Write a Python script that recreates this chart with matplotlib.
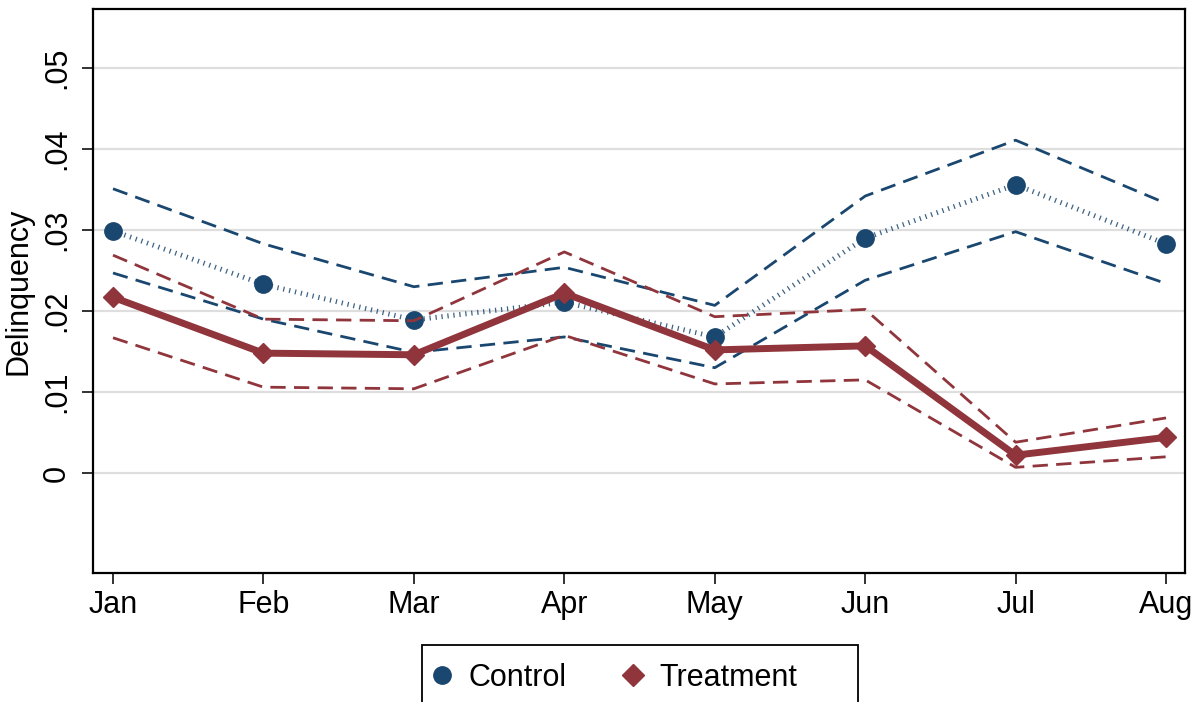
import matplotlib
matplotlib.use("Agg")
import matplotlib.pyplot as plt
from matplotlib.lines import Line2D
from matplotlib.patches import Rectangle

plt.rcParams['font.family'] = ['Liberation Sans', 'DejaVu Sans']

months = ["Jan", "Feb", "Mar", "Apr", "May", "Jun", "Jul", "Aug"]

control = [0.0299, 0.0233, 0.0189, 0.0211, 0.0168, 0.0290, 0.0356, 0.0283]
control_hi = [0.0351, 0.0283, 0.0230, 0.0254, 0.0207, 0.0342, 0.0411, 0.0333]
control_lo = [0.0247, 0.0190, 0.0149, 0.0168, 0.0130, 0.0238, 0.0298, 0.0234]

treatment = [0.0217, 0.0148, 0.0146, 0.0222, 0.0152, 0.0157, 0.0022, 0.0044]
treatment_hi = [0.0269, 0.0190, 0.0188, 0.0273, 0.0193, 0.0202, 0.0038, 0.0068]
treatment_lo = [0.0167, 0.0106, 0.0104, 0.0170, 0.0110, 0.0115, 0.0007, 0.0020]

yticks = [0, 0.01, 0.02, 0.03, 0.04, 0.05]
ytick_labels = ["0", ".01", ".02", ".03", ".04", ".05"]

NAVY = "#1a476f"
MAROON = "#90353b"

W, H = 1202, 702
fig = plt.figure(figsize=(W/100, H/100), dpi=100)
ax = fig.add_axes([93/W, (H-573)/H, (1185-93)/W, (573-9)/H])

x = list(range(len(months)))

dash = (0, (5.5, 3.0))
ax.plot(x, control_hi, color=NAVY, lw=2.0, linestyle=dash, zorder=3)
ax.plot(x, control_lo, color=NAVY, lw=2.0, linestyle=dash, zorder=3)
ax.plot(x, control, color=NAVY, lw=3.6, linestyle=(0, (0.25, 0.95)),
        dash_capstyle='butt', zorder=4, alpha=0.85)
ax.plot(x, control, color=NAVY, lw=0, marker='o', ms=12.5, zorder=5)

ax.plot(x, treatment_hi, color=MAROON, lw=2.0, linestyle=dash, zorder=6)
ax.plot(x, treatment_lo, color=MAROON, lw=2.0, linestyle=dash, zorder=6)
ax.plot(x, treatment, color=MAROON, lw=5, zorder=7)
ax.plot(x, treatment, color=MAROON, lw=0, marker='D', ms=10.5, zorder=8)

ax.set_xlim(-0.133, 7.126)
ax.set_ylim(-0.01235, 0.0573)
ax.set_xticks(x)
ax.set_xticklabels(months, fontsize=22)
ax.set_yticks(yticks)
ax.set_yticklabels(ytick_labels, fontsize=22, rotation=90, va='center')
ax.grid(axis='y', color='#dedede', lw=1.6, zorder=1)
ax.set_axisbelow(True)
for s in ax.spines.values():
    s.set_linewidth(1.6)
    s.set_color('black')
ax.tick_params(axis='both', direction='out', length=8, width=1.3, color='#222222')
ax.tick_params(axis='y', pad=7)
ax.tick_params(axis='x', pad=4)
ax.set_ylabel("Delinquency", fontsize=22, labelpad=6)

# legend frame (Stata-style, extends past the bottom edge)
fig.patches.append(Rectangle((422/W, -10/H), (858-422)/W, (H-645+10)/H,
                             transform=fig.transFigure, facecolor='white',
                             edgecolor='black', lw=1.3, zorder=0))

handles = [
    Line2D([], [], color=NAVY, marker='o', lw=0, ms=12.5),
    Line2D([], [], color=MAROON, marker='D', lw=0, ms=11),
]
leg = fig.legend(handles, ["Control", "Treatment"], loc='center left',
                 bbox_to_anchor=(433/W, (H-678)/H), ncol=2, fontsize=22,
                 frameon=False, handlelength=0.6, handletextpad=0.55,
                 columnspacing=1.9, borderpad=0, borderaxespad=0)

fig.savefig("out.png", dpi=100)
